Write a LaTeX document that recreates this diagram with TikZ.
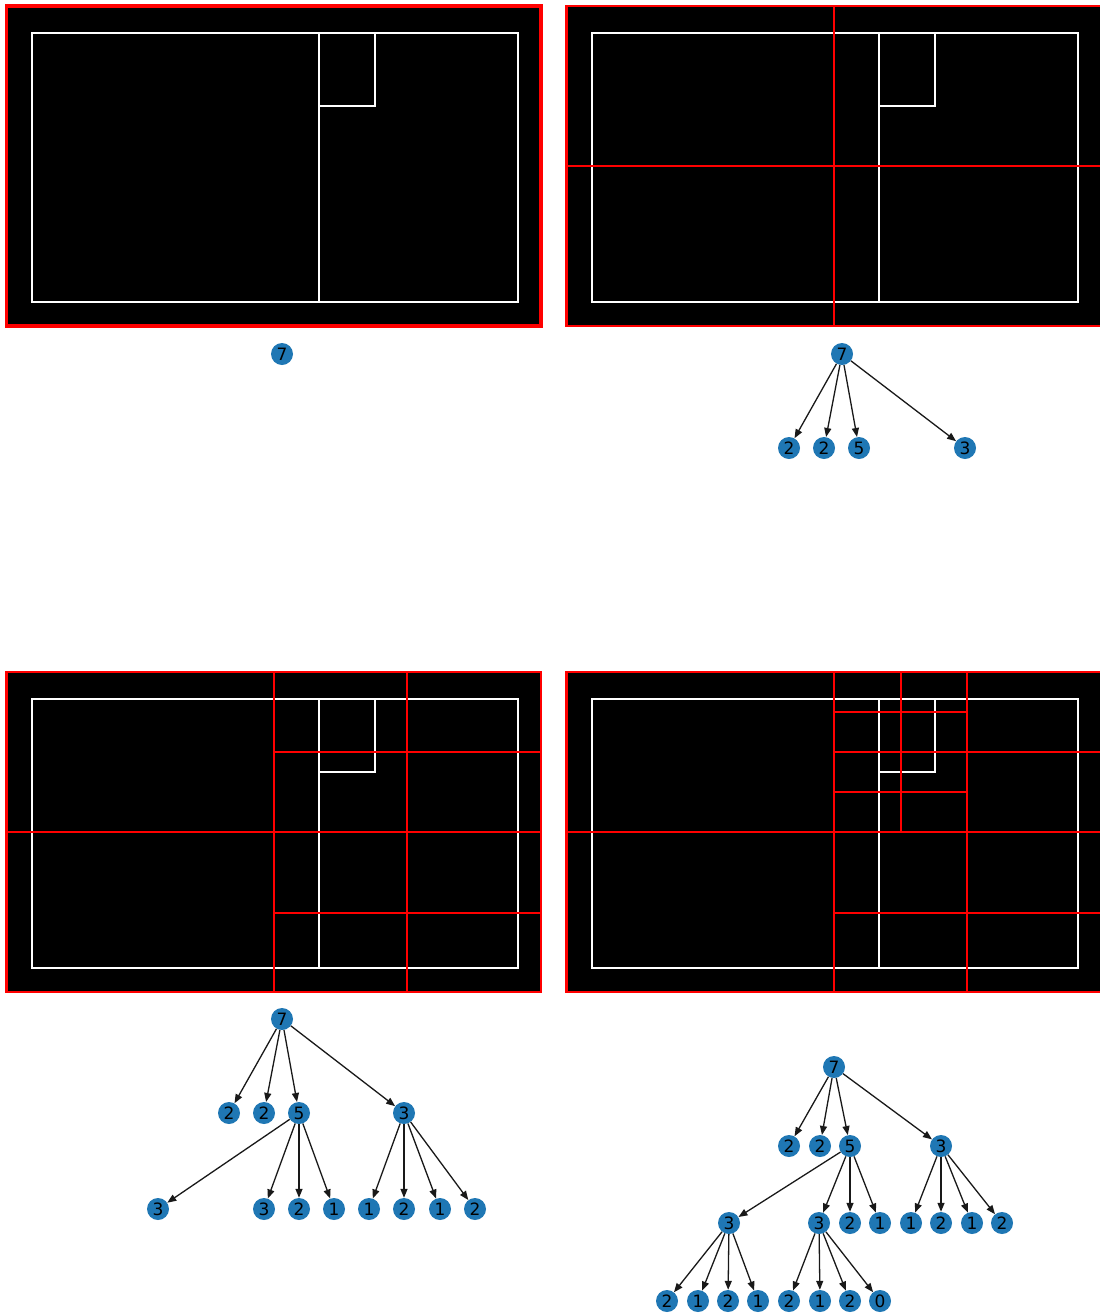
\documentclass[tikz,border=0pt]{standalone}
\usepackage{fontspec}
\newfontfamily\dvs{DejaVu Sans}
\usetikzlibrary{arrows.meta}
\definecolor{tabblue}{HTML}{1F77B4}
\tikzset{
  frameline/.style={draw=red, line width=2.5pt},
  splitline/.style={draw=red, line width=2pt},
  whiteline/.style={draw=white, line width=1.6pt},
  tn/.style={circle, fill=tabblue, inner sep=0pt, minimum size=22pt, font=\dvs\fontsize{17}{17}\selectfont, text=black},
  arr/.style={-{Triangle[length=9pt,width=7pt]}, line width=1.3pt, draw=black!90},
}
\newcommand\qbase{%
  \fill[black] (6.5,6) rectangle (541,326);
  \draw[whiteline] (32,33) rectangle (518,302);
  \draw[whiteline] (319,33) -- (319,302);
  \draw[whiteline] (319,106) -- (375,106) -- (375,33);
}
\newcommand\qframe{\draw[frameline] (6.5,6) rectangle (541,326);}
\begin{document}
\begin{tikzpicture}[x=1pt,y=-1pt]
\clip (0,0) rectangle (1100,1315);
\fill[white] (0,0) rectangle (1100,1315);

% ---------- panel 1 ----------
\begin{scope}
  \qbase
  \draw[frameline, line width=3.5pt] (6.5,6) rectangle (541,326);
\end{scope}
% ---------- panel 2 ----------
\begin{scope}[shift={(560,0)}]
  \qbase
  \draw[splitline] (273.5,6) -- (273.5,326);
  \draw[splitline] (6.5,166) -- (541,166);
  \qframe
\end{scope}
% ---------- panel 3 ----------
\begin{scope}[shift={(0,666)}]
  \qbase
  \draw[splitline] (273.5,6) -- (273.5,326);
  \draw[splitline] (6.5,166) -- (541,166);
  \draw[splitline] (407,6) -- (407,326);
  \draw[splitline] (273.5,85.5) -- (541,85.5);
  \draw[splitline] (273.5,246.5) -- (541,246.5);
  \qframe
\end{scope}
% ---------- panel 4 ----------
\begin{scope}[shift={(560,666)}]
  \qbase
  \draw[splitline] (273.5,6) -- (273.5,326);
  \draw[splitline] (6.5,166) -- (541,166);
  \draw[splitline] (407,6) -- (407,326);
  \draw[splitline] (273.5,85.5) -- (541,85.5);
  \draw[splitline] (273.5,246.5) -- (541,246.5);
  \draw[splitline] (341,6) -- (341,166);
  \draw[splitline] (273.5,45.5) -- (407,45.5);
  \draw[splitline] (273.5,125.5) -- (407,125.5);
  \qframe
\end{scope}

% ---------- tree 1 ----------
\node[tn] (a0) at (282,354) {7};

% ---------- tree 2 ----------
\node[tn] (b0) at (842,354) {7};
\node[tn] (b1) at (789,448) {2};
\node[tn] (b2) at (824,448) {2};
\node[tn] (b3) at (859,448) {5};
\node[tn] (b4) at (965,448) {3};
\foreach \c in {b1,b2,b3,b4} \draw[arr] (b0) -- (\c);

% ---------- tree 3 ----------
\node[tn] (c0) at (282,1019) {7};
\node[tn] (c1) at (229,1113) {2};
\node[tn] (c2) at (264,1113) {2};
\node[tn] (c3) at (299,1113) {5};
\node[tn] (c4) at (404,1113) {3};
\node[tn] (c31) at (158,1209) {3};
\node[tn] (c32) at (264,1209) {3};
\node[tn] (c33) at (299,1209) {2};
\node[tn] (c34) at (334,1209) {1};
\node[tn] (c41) at (369,1209) {1};
\node[tn] (c42) at (404,1209) {2};
\node[tn] (c43) at (440,1209) {1};
\node[tn] (c44) at (475,1209) {2};
\foreach \c in {c1,c2,c3,c4} \draw[arr] (c0) -- (\c);
\foreach \c in {c31,c32,c33,c34} \draw[arr] (c3) -- (\c);
\foreach \c in {c41,c42,c43,c44} \draw[arr] (c4) -- (\c);

% ---------- tree 4 ----------
\node[tn] (d0) at (834,1067) {7};
\node[tn] (d1) at (789,1146) {2};
\node[tn] (d2) at (820,1146) {2};
\node[tn] (d3) at (850,1146) {5};
\node[tn] (d4) at (941,1146) {3};
\node[tn] (d31) at (729,1223) {3};
\node[tn] (d32) at (819,1223) {3};
\node[tn] (d33) at (850,1223) {2};
\node[tn] (d34) at (880,1223) {1};
\node[tn] (d41) at (911,1223) {1};
\node[tn] (d42) at (941,1223) {2};
\node[tn] (d43) at (972,1223) {1};
\node[tn] (d44) at (1002,1223) {2};
\node[tn] (d311) at (667,1301) {2};
\node[tn] (d312) at (698,1301) {1};
\node[tn] (d313) at (728,1301) {2};
\node[tn] (d314) at (758,1301) {1};
\node[tn] (d321) at (789,1301) {2};
\node[tn] (d322) at (820,1301) {1};
\node[tn] (d323) at (850,1301) {2};
\node[tn] (d324) at (880,1301) {0};
\foreach \c in {d1,d2,d3,d4} \draw[arr] (d0) -- (\c);
\foreach \c in {d31,d32,d33,d34} \draw[arr] (d3) -- (\c);
\foreach \c in {d41,d42,d43,d44} \draw[arr] (d4) -- (\c);
\foreach \c in {d311,d312,d313,d314} \draw[arr] (d31) -- (\c);
\foreach \c in {d321,d322,d323,d324} \draw[arr] (d32) -- (\c);
\end{tikzpicture}
\end{document}
